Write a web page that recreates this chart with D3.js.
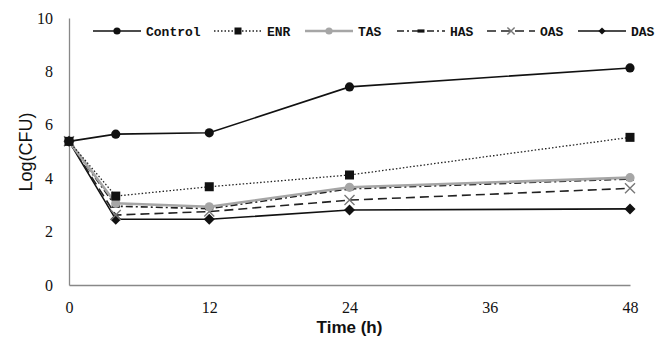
<!DOCTYPE html>
<html>
<head>
<meta charset="utf-8">
<script src="https://cdn.jsdelivr.net/npm/d3@7"></script>
<style>
body { margin: 0; background: #fff; }
svg { display: block; }
</style>
</head>
<body>
<div id="chart"></div>
<script>
// time points (h)
var times = [0, 4, 12, 24, 48];
var xTicks = [0, 12, 24, 36, 48];
var yTicks = [0, 2, 4, 6, 8, 10];

// log(CFU)
var control = [5.38, 5.65, 5.7, 7.42, 8.13];
var enr = [5.38, 3.33, 3.68, 4.12, 5.53];
var tas = [5.38, 3.06, 2.93, 3.66, 4.02];
var has = [5.38, 2.95, 2.86, 3.6, 3.97];
var oas = [5.38, 2.62, 2.75, 3.18, 3.62];
var das = [5.38, 2.46, 2.46, 2.81, 2.85];

var seriesNames = ["Control", "ENR", "TAS", "HAS", "OAS", "DAS"];
var seriesValues = [control, enr, tas, has, oas, das];

var styles = {
    Control: {stroke: "#111", width: 1.6, dash: null, marker: "circle", color: "#111", size: 4.6},
    ENR: {stroke: "#222", width: 1.3, dash: "1.5,2", marker: "square", color: "#111", size: 9},
    TAS: {stroke: "#a6a6a6", width: 2.6, dash: null, marker: "circle", color: "#a6a6a6", size: 4.6},
    HAS: {stroke: "#222", width: 1.6, dash: "7,3,2,3", marker: "dash", color: "#111", size: 8},
    OAS: {stroke: "#222", width: 1.6, dash: "9,5", marker: "cross", color: "#777", size: 5},
    DAS: {stroke: "#111", width: 1.6, dash: null, marker: "diamond", color: "#111", size: 5.5}
};

var W = 656, H = 342;
var margin = {top: 18, right: 26, bottom: 57, left: 69};

var svg = d3.select("#chart").append("svg")
    .attr("width", W)
    .attr("height", H);

var x = d3.scaleLinear().domain([0, 48]).range([margin.left, W - margin.right]);
var y = d3.scaleLinear().domain([0, 10]).range([H - margin.bottom, margin.top]);

// axes
var xAxis = svg.append("g")
    .attr("transform", "translate(0," + y(0) + ")")
    .call(d3.axisBottom(x).tickValues(xTicks).tickSize(0).tickPadding(17));
var yAxis = svg.append("g")
    .attr("transform", "translate(" + x(0) + ",0)")
    .call(d3.axisLeft(y).tickValues(yTicks).tickSize(0).tickPadding(16));

[xAxis, yAxis].forEach(function (a) {
    a.select(".domain").attr("stroke", "#888").attr("stroke-width", 1.3);
    a.selectAll("text")
        .attr("fill", "#111")
        .style("font-family", "'Liberation Serif', 'DejaVu Serif', serif")
        .style("font-size", "16px");
});
yAxis.selectAll("text").attr("dy", "0.32em");

// axis titles
svg.append("text")
    .attr("x", (x(0) + x(48)) / 2)
    .attr("y", 333)
    .attr("text-anchor", "middle")
    .style("font-family", "'Liberation Sans Narrow', 'Liberation Sans', sans-serif")
    .style("font-weight", "bold")
    .style("font-size", "17px")
    .attr("fill", "#111")
    .text("Time (h)");

svg.append("text")
    .attr("transform", "translate(32,152) rotate(-90)")
    .attr("text-anchor", "middle")
    .style("font-family", "'Liberation Sans', Arial, sans-serif")
    .style("font-size", "18px")
    .attr("fill", "#111")
    .text("Log(CFU)");

var line = d3.line()
    .x(function (d, i) { return x(times[i]); })
    .y(function (d) { return y(d); });

function drawMarker(g, type, st) {
    var s = st.size;
    if (type === "circle") {
        g.append("circle").attr("r", s).attr("fill", st.color);
    } else if (type === "square") {
        g.append("rect").attr("x", -s / 2).attr("y", -s / 2)
            .attr("width", s).attr("height", s).attr("fill", st.color);
    } else if (type === "diamond") {
        g.append("path").attr("d", "M0," + (-s) + "L" + s + ",0L0," + s + "L" + (-s) + ",0Z")
            .attr("fill", st.color);
    } else if (type === "dash") {
        g.append("rect").attr("x", -s / 2).attr("y", -1.6)
            .attr("width", s).attr("height", 3.2).attr("fill", st.color);
    } else if (type === "cross") {
        g.append("path").attr("d", "M" + (-s) + "," + (-s) + "L" + s + "," + s + "M" + (-s) + "," + s + "L" + s + "," + (-s))
            .attr("stroke", st.color).attr("stroke-width", 1.4).attr("fill", "none");
    }
}

// draw series (reverse so Control is on top)
var order = [5, 4, 3, 2, 1, 0];
order.forEach(function (k) {
    var name = seriesNames[k];
    var st = styles[name];
    var vals = seriesValues[k];
    svg.append("path")
        .datum(vals)
        .attr("d", line)
        .attr("fill", "none")
        .attr("stroke", st.stroke)
        .attr("stroke-width", st.width)
        .attr("stroke-dasharray", st.dash);
    svg.append("g").selectAll("g")
        .data(vals)
        .enter().append("g")
        .attr("transform", function (d, i) { return "translate(" + x(times[i]) + "," + y(d) + ")"; })
        .each(function () { drawMarker(d3.select(this), st.marker, st); });
});

// legend
var legendX = [93, 214, 305, 397, 487, 578];
var legendY = 31;
seriesNames.forEach(function (name, i) {
    var st = styles[name];
    var g = svg.append("g").attr("transform", "translate(" + legendX[i] + "," + legendY + ")");
    g.append("line")
        .attr("x1", 0).attr("x2", 48).attr("y1", 0).attr("y2", 0)
        .attr("stroke", st.stroke)
        .attr("stroke-width", st.width)
        .attr("stroke-dasharray", st.dash);
    var m = g.append("g").attr("transform", "translate(24,0)");
    var small = Object.assign({}, st, {size: st.marker === "square" ? 7 : st.marker === "dash" ? 7 : 3.6});
    drawMarker(m, st.marker, small);
    g.append("text")
        .attr("x", 53)
        .attr("y", 0)
        .attr("dy", "0.35em")
        .style("font-family", "'Liberation Mono', 'DejaVu Sans Mono', monospace")
        .style("font-weight", "bold")
        .style("font-size", "13px")
        .attr("fill", "#111")
        .text(name);
});
</script>
</body>
</html>
